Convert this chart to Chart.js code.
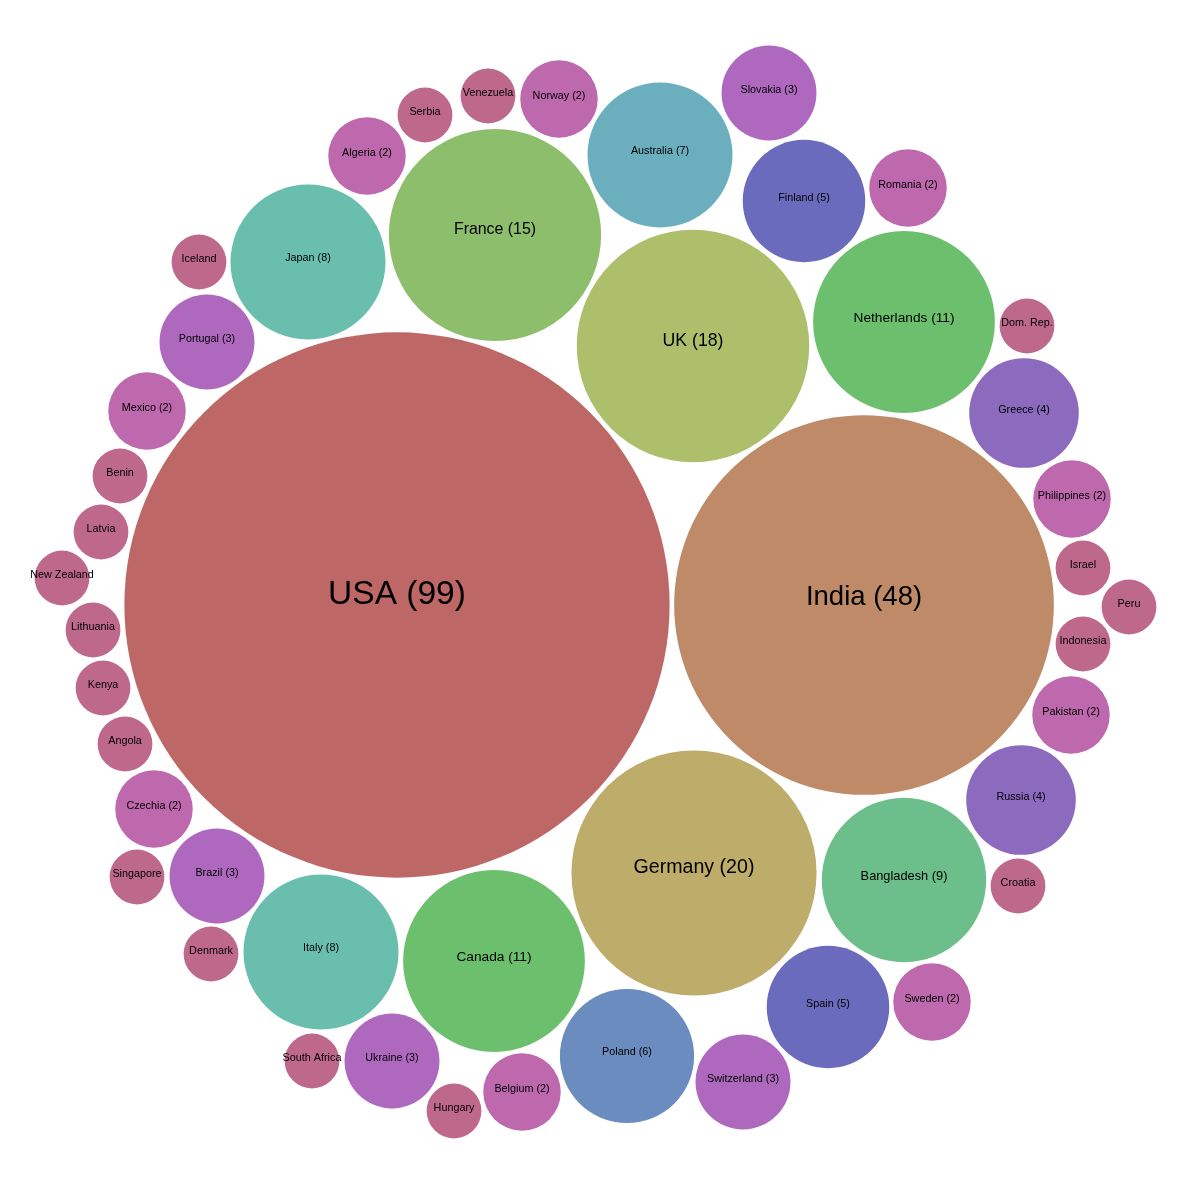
<!DOCTYPE html>
<html>
<head>
<meta charset="utf-8">
<title>Countries</title>
<script src="https://cdn.jsdelivr.net/npm/chart.js@4"></script>
<style>
  html, body { margin: 0; padding: 0; background: #fff; }
  canvas { display: block; }
</style>
</head>
<body>
<canvas id="bubble-chart" width="1200" height="1179"></canvas>
<script>
const countries = [
  'USA', 'India', 'Germany', 'UK', 'France', 'Netherlands', 'Canada', 'Bangladesh',
  'Japan', 'Italy', 'Australia', 'Poland', 'Finland', 'Spain', 'Greece', 'Russia',
  'Slovakia', 'Portugal', 'Brazil', 'Ukraine', 'Switzerland',
  'Norway', 'Algeria', 'Romania', 'Philippines', 'Pakistan', 'Mexico', 'Czechia', 'Sweden', 'Belgium',
  'Serbia', 'Venezuela', 'Iceland', 'Dom. Rep.', 'Israel', 'Peru', 'Indonesia', 'Benin', 'Latvia',
  'New Zealand', 'Lithuania', 'Kenya', 'Angola', 'Croatia', 'Singapore', 'Denmark', 'South Africa', 'Hungary'
];
const counts = [
  99, 48, 20, 18, 15, 11, 11, 9,
  8, 8, 7, 6, 5, 5, 4, 4,
  3, 3, 3, 3, 3,
  2, 2, 2, 2, 2, 2, 2, 2, 2,
  1, 1, 1, 1, 1, 1, 1, 1, 1,
  1, 1, 1, 1, 1, 1, 1, 1, 1
];
// layout position of each bubble
const xValues = [
  397, 864, 694, 693, 495, 904, 494, 904,
  308, 321, 660, 627, 804, 828, 1024, 1021,
  769, 207, 217, 392, 743,
  559, 367, 908, 1072, 1071, 147, 154, 932, 522,
  425, 488, 199, 1027, 1083, 1129, 1083, 120, 101,
  62, 93, 103, 125, 1018, 137, 211, 312, 454
];
const yValues = [
  605, 605, 873, 346, 235, 322, 961, 880,
  262, 952, 155, 1056, 201, 1007, 413, 800,
  93, 342, 876, 1061, 1082,
  99, 156, 188, 499, 715, 411, 809, 1002, 1092,
  115, 96, 262, 326, 568, 607, 644, 476, 532,
  578, 630, 688, 744, 886, 877, 954, 1061, 1111
];

const colorByCount = {
  99: '#bd6766', 48: '#be8a68', 20: '#bdac6a', 18: '#aebf6b', 15: '#8dbe6c',
  11: '#6cbf6d', 9: '#6cbe8b', 8: '#6abeae', 7: '#6bafbe', 6: '#6b8cbe',
  5: '#6b6bbe', 4: '#8c6bbe', 3: '#ae68be', 2: '#be68ad', 1: '#be688c'
};
const fontSizeByCount = {
  99: 33.5, 48: 27.5, 20: 19.6, 18: 17.7, 15: 15.9, 11: 13.7, 9: 12.8
};
const pixelsPerRootCount = 27.4;

function labelFor(i) {
  return counts[i] > 1 ? `${countries[i]} (${counts[i]})` : countries[i];
}

// labels sit a little above the centre of the bubble, more so on the big ones
function labelLift(count) {
  if (count >= 99) return 10;
  if (count >= 48) return 8;
  if (count >= 15) return 5;
  if (count >= 6) return 3.5;
  return 2.5;
}

const bubbleLabels = {
  id: 'bubbleLabels',
  afterDatasetsDraw(chart) {
    const ctx = chart.ctx;
    const points = chart.getDatasetMeta(0).data;
    ctx.save();
    ctx.fillStyle = '#000';
    ctx.textAlign = 'center';
    ctx.textBaseline = 'middle';
    points.forEach((point, i) => {
      const size = fontSizeByCount[counts[i]] || 10.8;
      ctx.font = `${size}px "Liberation Sans", Arial, sans-serif`;
      ctx.fillText(labelFor(i), point.x, point.y - labelLift(counts[i]));
    });
    ctx.restore();
  }
};

const ctx = document.getElementById('bubble-chart').getContext('2d');
new Chart(ctx, {
  type: 'bubble',
  data: {
    labels: countries,
    datasets: [{
      label: 'Countries',
      data: counts.map((count, i) => ({
        x: xValues[i],
        y: yValues[i],
        r: pixelsPerRootCount * Math.sqrt(count)
      })),
      backgroundColor: counts.map(count => colorByCount[count]),
      borderWidth: 0,
      hoverBorderWidth: 0,
      clip: false
    }]
  },
  options: {
    responsive: false,
    animation: false,
    layout: { padding: 0, autoPadding: false },
    scales: {
      x: { type: 'linear', min: 0, max: 1200, display: false },
      y: { type: 'linear', min: 0, max: 1179, reverse: true, display: false }
    },
    plugins: {
      legend: { display: false },
      tooltip: { enabled: false }
    }
  },
  plugins: [bubbleLabels]
});
</script>
</body>
</html>
